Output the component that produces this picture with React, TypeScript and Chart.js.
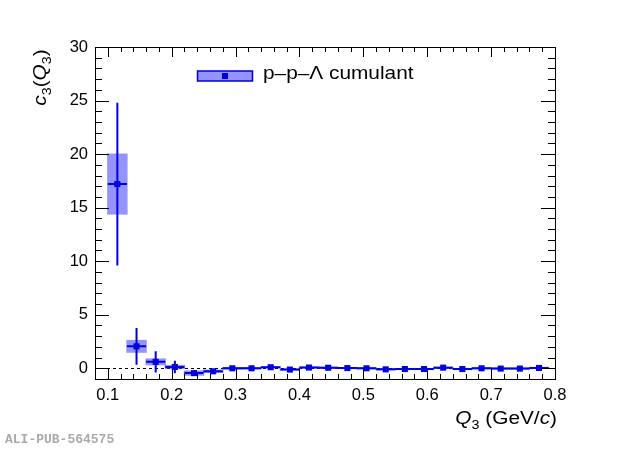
import React, { useEffect, useRef } from "react";
import { Chart, registerables } from "chart.js";

Chart.register(...registerables);

const X_VALUES = [0.115, 0.145, 0.175, 0.205, 0.235, 0.265, 0.295, 0.325, 0.355, 0.385, 0.415, 0.445, 0.475, 0.505, 0.535, 0.565, 0.595, 0.625, 0.655, 0.685, 0.715, 0.745, 0.775];
const Y_VALUES = [17.2, 2.05, 0.6, 0.12, -0.45, -0.28, 0.0, 0.0, 0.1, -0.12, 0.07, 0.05, 0.02, 0.0, -0.1, -0.07, -0.07, 0.06, -0.07, 0.0, -0.03, -0.03, 0.03];
const STAT_ERR = [7.6, 1.72, 1.0, 0.58, 0.25, 0.15, 0.1, 0.08, 0.07, 0.06, 0.06, 0.05, 0.05, 0.05, 0.05, 0.05, 0.05, 0.05, 0.05, 0.05, 0.05, 0.05, 0.05];
const SYST_ERR = [2.85, 0.6, 0.32, 0.2, 0.25, 0.16, 0.12, 0.1, 0.1, 0.1, 0.1, 0.1, 0.1, 0.1, 0.1, 0.1, 0.1, 0.1, 0.1, 0.1, 0.1, 0.1, 0.1];
const X_HALF_BIN = 0.015;
const SYST_HALF_WIDTH = 0.016;

const X_TICKS = [0.1, 0.2, 0.3, 0.4, 0.5, 0.6, 0.7, 0.8];
const Y_TICKS = [0, 5, 10, 15, 20, 25, 30];
const X_MIN = 0.08, X_MAX = 0.8, Y_MIN = -1, Y_MAX = 30;
const X_MINOR_STEP = 0.02, Y_MINOR_STEP = 1;

const LEGEND_LABEL = "p\u2013p\u2013\u039B cumulant";
const WATERMARK = "ALI-PUB-564575";

const FONT = "'Liberation Sans', Arial, Helvetica, sans-serif";
const LINE_BLUE = "#0000e0";
const BOX_FILL = "rgba(60,60,250,0.55)";
const TEXT_STRETCH = 1.19;

function drawRich(ctx: CanvasRenderingContext2D, parts: { t: string; italic?: boolean; sub?: boolean }[], size: number, x: number, y: number, align: "left" | "right" | "center", stretch: number) {
  const fonts = parts.map((p) => `${p.italic ? "italic " : ""}${p.sub ? Math.round(size * 0.7) : size}px ${FONT}`);
  let total = 0;
  const widths = parts.map((p, i) => {
    ctx.font = fonts[i];
    const w = ctx.measureText(p.t).width;
    total += w;
    return w;
  });
  const totalScaled = total * stretch;
  const startX = align === "left" ? x : align === "right" ? x - totalScaled : x - totalScaled / 2;
  ctx.save();
  ctx.translate(startX, y);
  ctx.scale(stretch, 1);
  ctx.textBaseline = "alphabetic";
  ctx.textAlign = "left";
  let cx = 0;
  parts.forEach((p, i) => {
    ctx.font = fonts[i];
    ctx.fillText(p.t, cx, p.sub ? size * 0.3 : 0);
    cx += widths[i];
  });
  ctx.restore();
}

const decorPlugin = {
  id: "decor",
  beforeDatasetsDraw(chart: any) {
    const ctx = chart.ctx as CanvasRenderingContext2D;
    const xs = chart.scales.x, ys = chart.scales.y;
    const { left, right } = chart.chartArea;
    ctx.save();
    ctx.strokeStyle = "#000";
    ctx.lineWidth = 1;
    ctx.setLineDash([3, 3]);
    const y0 = Math.round(ys.getPixelForValue(0)) + 0.5;
    ctx.beginPath();
    ctx.moveTo(left, y0);
    ctx.lineTo(right, y0);
    ctx.stroke();
    ctx.setLineDash([]);
    ctx.fillStyle = BOX_FILL;
    X_VALUES.forEach((xv, i) => {
      const x1 = xs.getPixelForValue(xv - SYST_HALF_WIDTH);
      const x2 = xs.getPixelForValue(xv + SYST_HALF_WIDTH);
      const yt = ys.getPixelForValue(Y_VALUES[i] + SYST_ERR[i]);
      const yb = ys.getPixelForValue(Y_VALUES[i] - SYST_ERR[i]);
      ctx.fillRect(x1, yt, x2 - x1, yb - yt);
    });
    ctx.strokeStyle = LINE_BLUE;
    ctx.lineWidth = 2;
    X_VALUES.forEach((xv, i) => {
      const px = xs.getPixelForValue(xv);
      const py = ys.getPixelForValue(Y_VALUES[i]);
      ctx.beginPath();
      ctx.moveTo(px, ys.getPixelForValue(Y_VALUES[i] + STAT_ERR[i]));
      ctx.lineTo(px, ys.getPixelForValue(Y_VALUES[i] - STAT_ERR[i]));
      ctx.moveTo(xs.getPixelForValue(xv - X_HALF_BIN), py);
      ctx.lineTo(xs.getPixelForValue(xv + X_HALF_BIN), py);
      ctx.stroke();
    });
    ctx.restore();
  },
  afterDraw(chart: any) {
    const ctx = chart.ctx as CanvasRenderingContext2D;
    const xs = chart.scales.x, ys = chart.scales.y;
    const { left, right, top, bottom } = chart.chartArea;
    ctx.save();
    ctx.strokeStyle = "#000";
    ctx.lineWidth = 1;
    ctx.strokeRect(Math.round(left) + 0.5, Math.round(top) + 0.5, Math.round(right - left), Math.round(bottom - top));
    ctx.beginPath();
    for (let k = 0; ; k++) {
      const v = X_MIN + k * X_MINOR_STEP;
      if (v > X_MAX + 1e-9) break;
      const isMajor = X_TICKS.some((t) => Math.abs(t - v) < 1e-6);
      const len = isMajor ? 10 : 5;
      const px = Math.round(xs.getPixelForValue(v)) + 0.5;
      ctx.moveTo(px, bottom);
      ctx.lineTo(px, bottom - len);
      ctx.moveTo(px, top);
      ctx.lineTo(px, top + len);
    }
    for (let k = 0; ; k++) {
      const v = Y_MIN + k * Y_MINOR_STEP;
      if (v > Y_MAX + 1e-9) break;
      const isMajor = Y_TICKS.some((t) => Math.abs(t - v) < 1e-6);
      const len = isMajor ? 14 : 7;
      const py = Math.round(ys.getPixelForValue(v)) + 0.5;
      ctx.moveTo(left, py);
      ctx.lineTo(left + len, py);
      ctx.moveTo(right, py);
      ctx.lineTo(right - len, py);
    }
    ctx.stroke();

    // legend
    const lx1 = 197.5, lx2 = 252.5, ly1 = 71, ly2 = 81;
    ctx.fillStyle = BOX_FILL;
    ctx.fillRect(lx1, ly1, lx2 - lx1, ly2 - ly1);
    ctx.strokeStyle = LINE_BLUE;
    ctx.lineWidth = 1.5;
    ctx.strokeRect(lx1, ly1, lx2 - lx1, ly2 - ly1);
    ctx.fillStyle = LINE_BLUE;
    ctx.fillRect(222, 73, 6, 6);
    ctx.fillStyle = "#000";
    drawRich(ctx, [{ t: LEGEND_LABEL }], 17.5, 263, 78.5, "left", TEXT_STRETCH);

    // x title
    drawRich(ctx, [
      { t: "Q", italic: true },
      { t: "3", sub: true },
      { t: " (GeV/" },
      { t: "c", italic: true },
      { t: ")" },
    ], 17.5, 557, 424, "right", TEXT_STRETCH);

    // y title
    ctx.save();
    ctx.translate(46, 77.5);
    ctx.rotate(-Math.PI / 2);
    drawRich(ctx, [
      { t: "c", italic: true },
      { t: "3", sub: true },
      { t: "(" },
      { t: "Q", italic: true },
      { t: "3", sub: true },
      { t: ")" },
    ], 17.5, 0, 0, "center", TEXT_STRETCH);
    ctx.restore();

    // watermark
    ctx.fillStyle = "#aaaaaa";
    ctx.font = `bold 13px 'Liberation Mono', 'DejaVu Sans Mono', monospace`;
    ctx.textAlign = "left";
    ctx.textBaseline = "alphabetic";
    ctx.fillText(WATERMARK, 5, 443);
    ctx.restore();
  },
};

export default function App() {
  const ref = useRef<HTMLCanvasElement | null>(null);
  useEffect(() => {
    if (!ref.current) return;
    const chart = new Chart(ref.current, {
      type: "scatter",
      data: {
        datasets: [
          {
            label: LEGEND_LABEL,
            data: X_VALUES.map((x, i) => ({ x, y: Y_VALUES[i] })),
            pointStyle: "rect",
            pointRadius: 4.3,
            pointBackgroundColor: LINE_BLUE,
            pointBorderColor: LINE_BLUE,
            pointBorderWidth: 0,
            showLine: false,
          },
        ],
      },
      options: {
        animation: false,
        responsive: false,
        devicePixelRatio: 1,
        layout: { padding: { top: 47, right: 65, left: 0, bottom: 0 } },
        plugins: { legend: { display: false }, tooltip: { enabled: false } },
        scales: {
          x: {
            type: "linear",
            min: X_MIN,
            max: X_MAX,
            grid: { display: false, drawTicks: false },
            border: { display: false },
            afterBuildTicks: (s: any) => { s.ticks = X_TICKS.map((v) => ({ value: v })); },
            afterFit: (s: any) => { s.height = 70; },
            ticks: {
              padding: 7,
              color: "#000",
              font: { family: FONT, size: 16.5 },
              maxRotation: 0,
              autoSkip: false,
              callback: (v: any) => Number(v).toFixed(1),
            },
          },
          y: {
            type: "linear",
            min: Y_MIN,
            max: Y_MAX,
            grid: { display: false, drawTicks: false },
            border: { display: false },
            afterBuildTicks: (s: any) => { s.ticks = Y_TICKS.map((v) => ({ value: v })); },
            afterFit: (s: any) => { s.width = 95; },
            ticks: {
              padding: 7,
              color: "#000",
              font: { family: FONT, size: 16.5 },
              autoSkip: false,
              callback: (v: any) => String(v),
            },
          },
        },
      },
      plugins: [decorPlugin],
    } as any);
    return () => chart.destroy();
  }, []);
  return (
    <div style={{ position: "absolute", left: 0, top: 0, width: 620, height: 449, background: "#fff" }}>
      <canvas ref={ref} width={620} height={449} style={{ width: 620, height: 449 }} />
    </div>
  );
}
